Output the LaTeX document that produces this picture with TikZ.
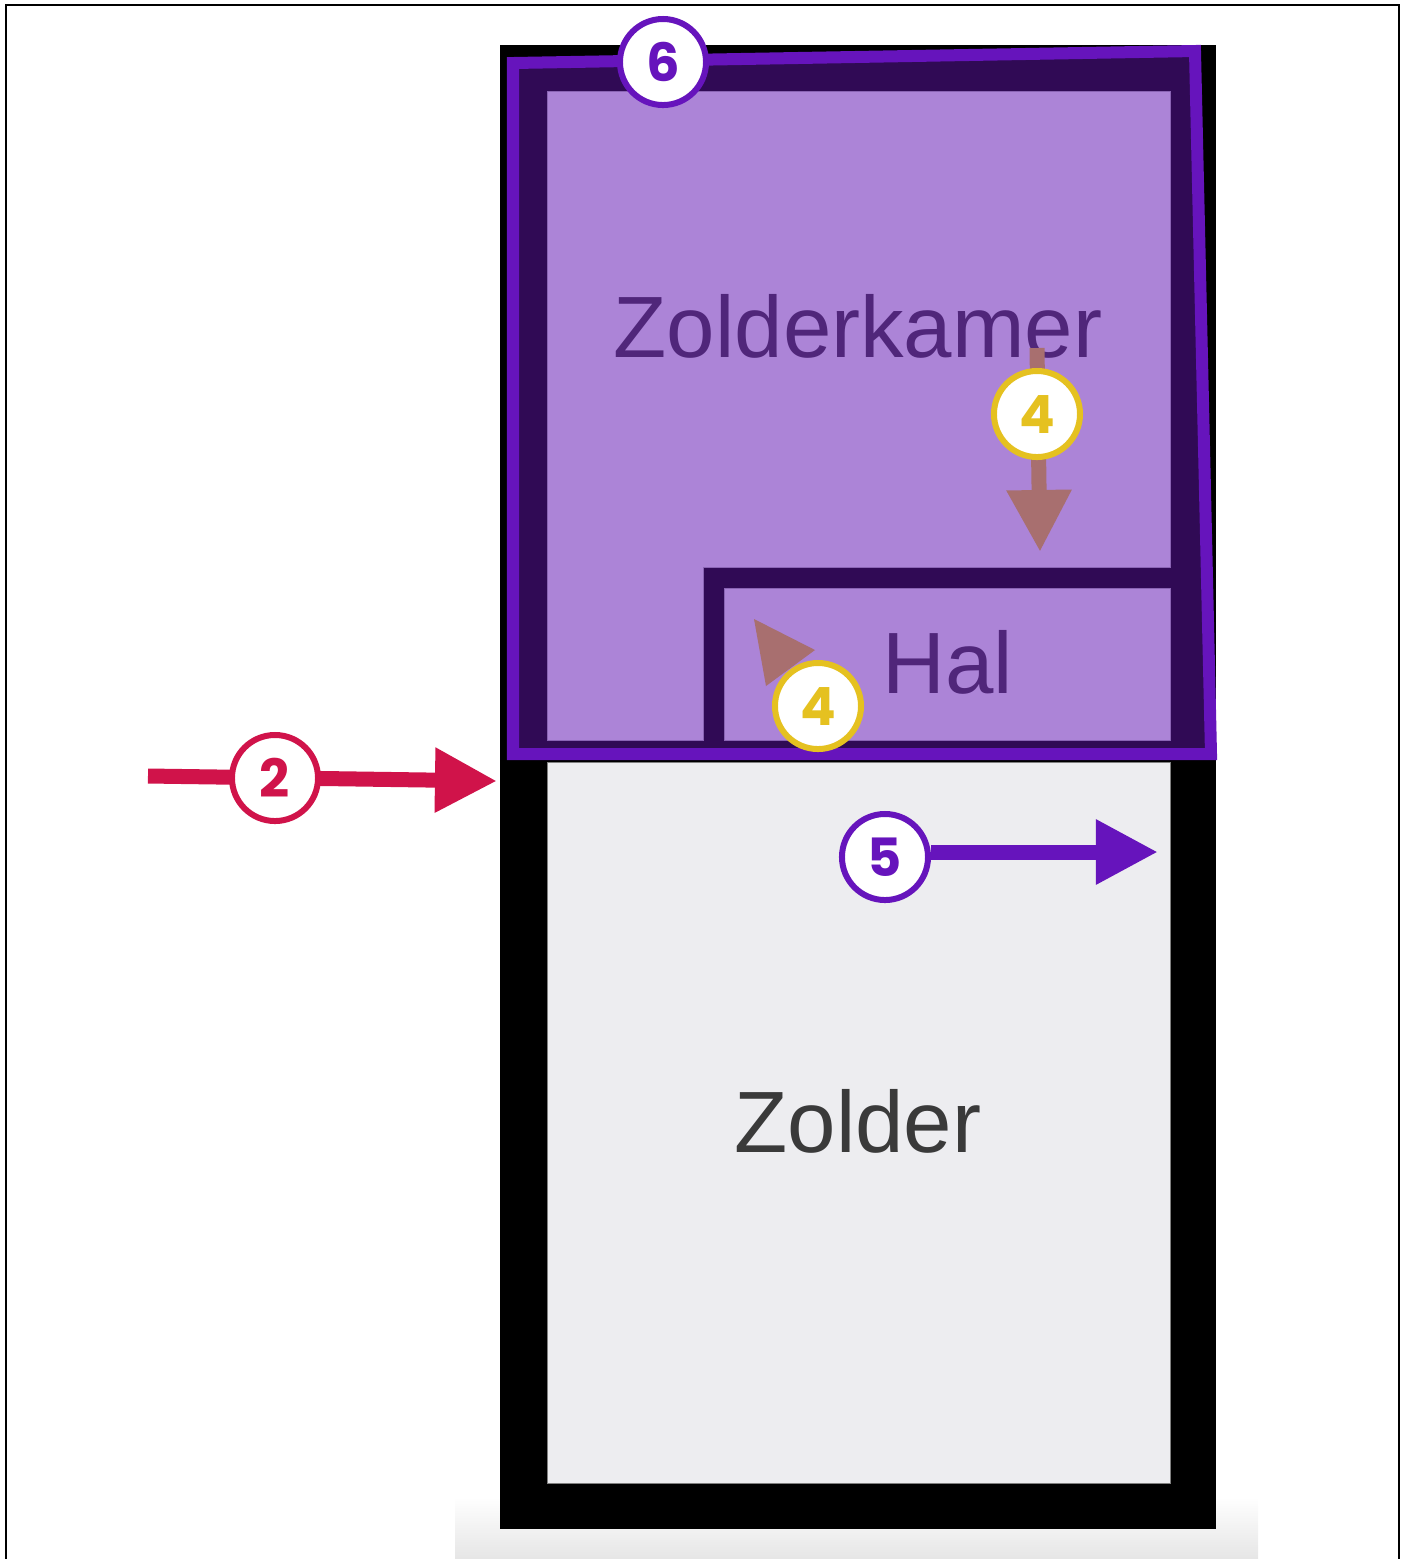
\documentclass[tikz,border=0pt]{standalone}
\usepackage{fontspec}
\setmainfont{Liberation Sans}
\newfontfamily\badgefont{Poppins}
\usepackage{xcolor}
\usepackage{tikz}
\usetikzlibrary{arrows.meta}

\definecolor{wallpurple}{HTML}{300A55}
\definecolor{linepurple}{HTML}{6614BC}
\definecolor{roompurple}{HTML}{AC84D7}
\definecolor{roomedge}{HTML}{8A64B4}
\definecolor{labelpurple}{HTML}{50267A}
\definecolor{zoldergray}{HTML}{EDEDF0}
\definecolor{labelgray}{HTML}{3A3A3A}
\definecolor{crimson}{HTML}{D0134A}
\definecolor{badgeyellow}{HTML}{E5C120}
\definecolor{arrowbrown}{HTML}{A86F6F}

\tikzset{
    badge/.style={circle, draw=#1, fill=white, text=#1, line width=0.06cm,
        minimum size=0.86cm, inner sep=0pt,
        font=\badgefont\bfseries\fontsize{15}{15}\selectfont},
    flow/.style={#1, line width=0.15cm, -{Triangle[length=0.62cm,width=0.61cm]}},
    roomlabel/.style={anchor=base, font=\fontsize{24.75}{26}\selectfont}
}

\begin{document}
\begin{tikzpicture}[x=0.01cm, y=-0.01cm]
    \useasboundingbox (0,0) rectangle (1405,1559);

    % Frame
    \draw[line width=0.02cm] (6,1559) -- (6,5) -- (1399,5) -- (1399,1559);

    % Shadow under the building
    \shade[top color=white, bottom color=black!10] (455,1497) rectangle (1258,1559);

    % Building
    \fill[black] (500,45) rectangle (1216,1529);
    \filldraw[fill=zoldergray, draw=gray, line width=0.01cm] (547,762) rectangle (1170,1483);

    % Top floor
    \filldraw[fill=wallpurple, draw=linepurple, line width=0.12cm]
        (513,63) -- (1195,51) -- (1211,754) -- (513,754) -- cycle;
    \filldraw[fill=roompurple, draw=roomedge, line width=0.01cm]
        (547,91) -- (1170,91) -- (1170,567) -- (703,567) -- (703,740) -- (547,740) -- cycle;
    \filldraw[fill=roompurple, draw=roomedge, line width=0.01cm] (724,588) rectangle (1170,740);

    % Labels
    \node[roomlabel, text=labelpurple] (kamer) at (858,357) {Zolderkamer};
    \node[roomlabel, text=labelpurple] (hal) at (948,693) {Hal};
    \node[roomlabel, text=labelgray] (zolder) at (858,1152) {Zolder};

    % 2
    \coordinate (in2) at (148,776);
    \coordinate (out2) at (497,781);
    \draw[flow=crimson] (in2) -- (out2);
    \node[badge=crimson] (b2) at (275,778) {2};

    % 4
    \coordinate (in4) at (1037,348);
    \coordinate (out4) at (1040,552);
    \draw[flow=arrowbrown] (in4) -- (out4);
    \node[badge=badgeyellow] (b4a) at (1037,414) {4};
    \fill[arrowbrown] (754,619) -- (815,650) -- (766,686) -- cycle;
    \node[badge=badgeyellow] (b4b) at (818,706) {4};

    % 5
    \node[badge=linepurple] (b5) at (885,857) {5};
    \coordinate (out5) at (1158,852);
    \draw[flow=linepurple] (b5.east |- out5) -- (out5);

    % 6
    \node[badge=linepurple] (b6) at (663,62) {6};
\end{tikzpicture}
\end{document}
